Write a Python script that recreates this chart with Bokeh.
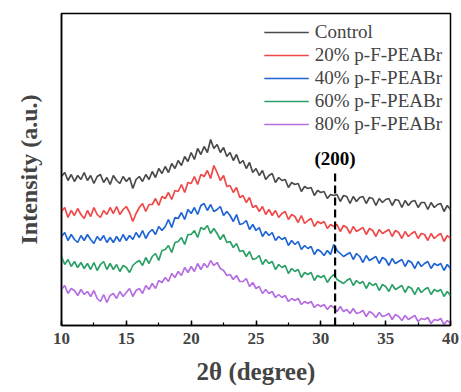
import numpy as np
from bokeh.plotting import figure
from bokeh.models import Legend, LegendItem, SingleIntervalTicker, Label
from bokeh.embed import file_html
from bokeh.resources import INLINE

two_theta_start = 10.0
two_theta_step = 0.25

control = [
    149, 153, 145, 151, 144, 150, 146, 153, 145, 150, 142, 149, 151, 143, 148, 141,
    150, 145, 142, 149, 144, 148, 137, 146, 149, 144, 151, 146, 154, 148, 157, 152,
    159, 153, 162, 157, 165, 160, 169, 164, 173, 166, 177, 171, 179, 173, 186, 177,
    181, 173, 178, 169, 173, 165, 171, 162, 165, 157, 163, 153, 157, 150, 155, 146,
    150, 152, 143, 148, 145, 146, 138, 143, 141, 142, 134, 139, 137, 138, 130, 135,
    133, 134, 127, 131, 130, 131, 124, 130, 129, 122, 129, 124, 128, 129, 122, 128,
    127, 120, 127, 123, 126, 127, 120, 126, 125, 118, 125, 120, 124, 125, 118, 123,
    123, 116, 123, 118, 121, 122, 114, 120, 116]
p20 = [
    114, 118, 108, 115, 110, 117, 111, 107, 115, 109, 118, 111, 108, 115, 111, 118,
    112, 119, 111, 116, 119, 113, 104, 112, 118, 122, 114, 121, 121, 127, 120, 129,
    127, 133, 126, 135, 134, 141, 133, 143, 142, 149, 141, 151, 149, 155, 147, 160,
    153, 145, 150, 139, 140, 133, 138, 128, 130, 123, 128, 118, 120, 114, 119, 111,
    116, 110, 115, 108, 112, 114, 106, 111, 109, 103, 110, 102, 105, 107, 99, 104,
    102, 104, 97, 101, 99, 101, 94, 100, 98, 92, 99, 94, 96, 98, 91, 97,
    95, 89, 96, 92, 94, 96, 89, 95, 93, 87, 94, 89, 92, 94, 87, 92,
    91, 85, 92, 87, 90, 92, 84, 90, 87]
p40 = [
    89, 93, 85, 91, 86, 83, 90, 85, 91, 86, 82, 89, 85, 90, 83, 88,
    83, 89, 84, 91, 85, 90, 86, 93, 88, 95, 87, 93, 96, 91, 99, 95,
    99, 106, 98, 108, 107, 113, 106, 116, 112, 118, 111, 120, 122, 115, 121, 114,
    116, 119, 110, 114, 110, 104, 111, 101, 102, 105, 96, 101, 95, 98, 89, 94,
    90, 93, 85, 89, 86, 88, 80, 85, 81, 84, 76, 80, 77, 79, 71, 76,
    74, 70, 75, 71, 81, 75, 72, 69, 71, 73, 66, 72, 69, 63, 70, 65,
    67, 69, 62, 68, 66, 60, 67, 62, 64, 66, 59, 65, 63, 57, 64, 59,
    62, 64, 57, 62, 60, 62, 55, 61, 57]
p60 = [
    69, 61, 66, 59, 64, 58, 63, 57, 62, 56, 63, 55, 61, 64, 56, 62,
    56, 61, 54, 60, 58, 53, 60, 63, 65, 60, 68, 62, 69, 72, 65, 75,
    76, 80, 73, 83, 84, 88, 81, 91, 91, 95, 88, 98, 96, 100, 92, 97,
    92, 86, 91, 83, 84, 78, 82, 74, 75, 69, 74, 66, 67, 70, 61, 66,
    62, 64, 56, 61, 58, 60, 52, 57, 54, 56, 48, 53, 51, 53, 45, 50,
    48, 50, 43, 48, 51, 46, 44, 42, 45, 47, 40, 45, 42, 44, 37, 43,
    40, 42, 35, 41, 39, 34, 41, 36, 38, 40, 33, 39, 37, 31, 38, 33,
    36, 38, 31, 36, 34, 36, 29, 34, 30]
p80 = [
    36, 40, 32, 37, 35, 30, 36, 31, 34, 29, 35, 27, 24, 31, 23, 30,
    32, 27, 34, 29, 33, 37, 29, 35, 37, 32, 40, 36, 42, 37, 45, 43,
    48, 44, 52, 48, 54, 50, 58, 53, 59, 54, 62, 56, 62, 58, 65, 60,
    63, 57, 55, 50, 51, 46, 50, 44, 44, 47, 39, 43, 37, 39, 32, 36,
    32, 34, 28, 31, 28, 30, 24, 27, 25, 27, 21, 24, 22, 24, 18, 21,
    19, 21, 16, 20, 18, 14, 19, 14, 16, 12, 17, 12, 13, 15, 9, 14,
    12, 8, 13, 9, 10, 12, 6, 11, 9, 5, 10, 6, 8, 10, 4, 7,
    6, 8, 2, 6, 5, 7, 1, 5, 2]

series_names = ["Control", "20% p-F-PEABr", "40% p-F-PEABr", "60% p-F-PEABr", "80% p-F-PEABr"]
series_values = [control, p20, p40, p60, p80]
colors = ["#4a4a4a", "#f04848", "#1f64d4", "#2aa066", "#b46ee0"]

peak_label = "(200)"
peak_pos = 31.1
peak_line_top = 152

SERIF = "Liberation Serif"

p = figure(width=461, height=392, output_backend="svg", toolbar_location=None,
           x_range=(10, 40), y_range=(0, 312),
           min_border_left=61, min_border_right=11, min_border_top=13, min_border_bottom=67)
p.background_fill_color = "white"
p.border_fill_color = "white"
p.grid.visible = False
p.outline_line_color = "black"
p.outline_line_width = 1.5

items = []
for name, vals, c in zip(series_names, series_values, colors):
    xs = two_theta_start + two_theta_step * np.arange(len(vals))
    r = p.line(xs, vals, line_color=c, line_width=1.7)
    items.append(LegendItem(label=name, renderers=[r]))

p.line([peak_pos, peak_pos], [0, peak_line_top], line_color="black", line_width=2.2, line_dash="8 4")
p.add_layout(Label(x=peak_pos, y=peak_line_top + 5, text=peak_label, text_align="center",
                   text_baseline="bottom", text_font=SERIF, text_font_style="bold",
                   text_font_size="19px", text_color="black"))

xax = p.xaxis[0]
xax.ticker = SingleIntervalTicker(interval=5, num_minor_ticks=2)
xax.major_tick_in = 5
xax.major_tick_out = 0
xax.minor_tick_in = 3
xax.minor_tick_out = 0
xax.axis_line_width = 1.5
xax.major_tick_line_width = 1.5
xax.minor_tick_line_width = 1.2
xax.major_label_text_font = SERIF
xax.major_label_text_font_style = "bold"
xax.major_label_text_font_size = "17px"
xax.major_label_standoff = 7
xax.axis_label = "2θ (degree)"
xax.axis_label_text_font = SERIF
xax.axis_label_text_font_style = "bold"
xax.axis_label_text_font_size = "25px"
xax.axis_label_standoff = 11

yax = p.yaxis[0]
yax.major_tick_in = 0
yax.major_tick_out = 0
yax.minor_tick_in = 0
yax.minor_tick_out = 0
yax.major_label_text_font_size = "0px"
yax.major_label_text_alpha = 0
yax.axis_line_width = 1.5
yax.axis_label = "Intensity (a.u.)"
yax.axis_label_text_font = SERIF
yax.axis_label_text_font_style = "bold"
yax.axis_label_text_font_size = "24px"
yax.axis_label_standoff = 20

legend = Legend(items=items, location="top_right")
legend.border_line_alpha = 0
legend.background_fill_alpha = 0
legend.label_text_font = SERIF
legend.label_text_font_size = "19px"
legend.glyph_width = 45
legend.glyph_height = 20
legend.spacing = 1
legend.padding = 2
legend.margin = 6
legend.label_standoff = 6
p.add_layout(legend)

open("out.html", "w").write(file_html(p, INLINE))
